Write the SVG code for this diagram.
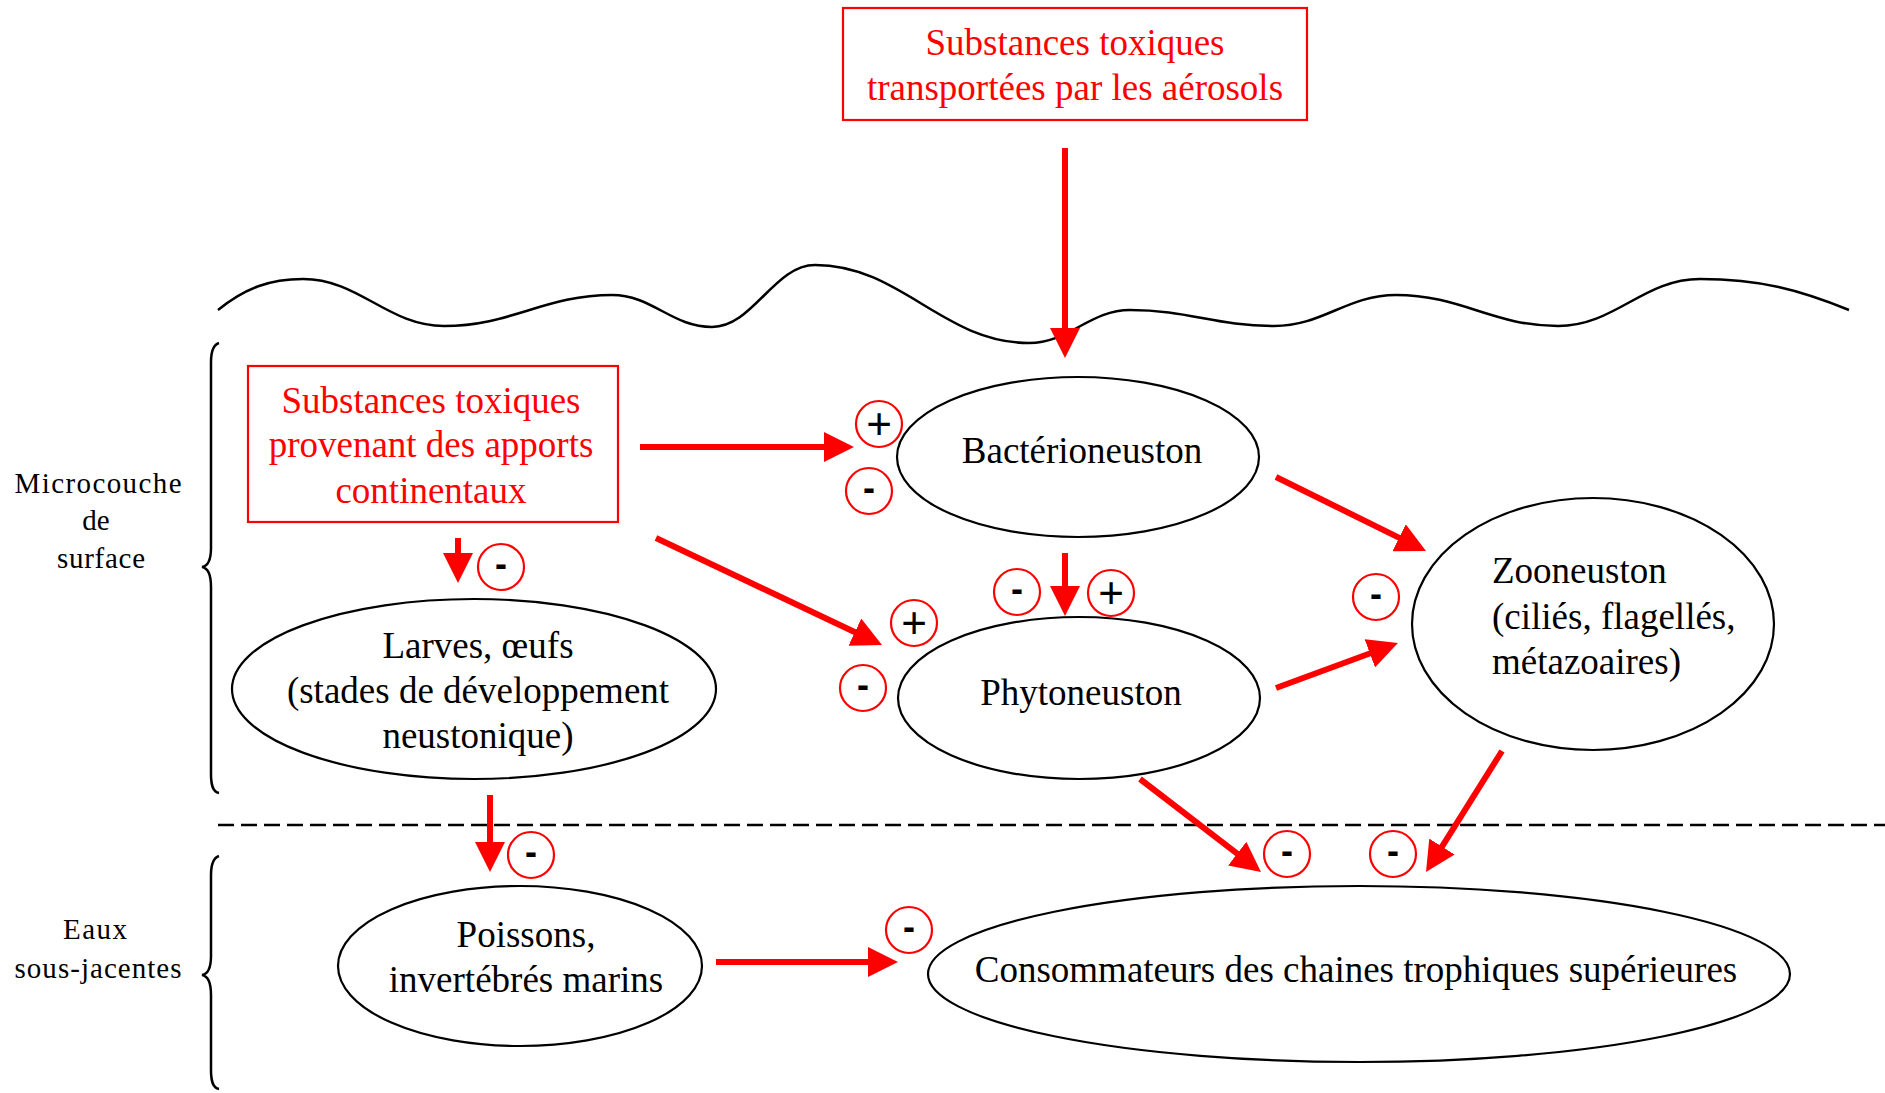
<svg xmlns="http://www.w3.org/2000/svg" width="1885" height="1093" viewBox="0 0 1885 1093">
<style>
.t{font-family:"Liberation Serif","Times New Roman",serif;font-size:37px;fill:#000}
.r{fill:#ff0000}
.lab{font-family:"Liberation Serif","Times New Roman",serif;font-size:29px;fill:#000;text-anchor:middle}
.mid{text-anchor:middle}
.box{fill:#fff;stroke:#ff0000;stroke-width:2.2}
.el{fill:#fff;stroke:#000;stroke-width:2.2}
.arr{stroke:#ff0000;stroke-width:6;fill:none;marker-end:url(#ah)}
.sig{fill:#fff;stroke:#ff0000;stroke-width:2.2}
.minus{font-family:"Liberation Sans",Arial,sans-serif;font-weight:bold;font-size:36px;fill:#000;text-anchor:middle}
.plus{font-family:"Liberation Sans",Arial,sans-serif;font-size:44px;fill:#000;text-anchor:middle}
.line{fill:none;stroke:#000;stroke-width:2.5}
</style>
<defs>
<marker id="ah" markerUnits="userSpaceOnUse" markerWidth="30" markerHeight="30" refX="2" refY="15" orient="auto">
<path d="M0,0 L30,15 L0,30 Z" fill="#ff0000"/>
</marker>
</defs>
<rect width="1885" height="1093" fill="#fff"/>

<g id="surface">
<path class="line" d="M218,310 C245,288 270,279 303,279 C359,279 388,326 444,326 C511,326 545,295 612,295 C652,295 672,327 712,327 C753,327 774,265 815,265 C901,265 943,343 1029,343 C1069,343 1090,310 1130,310 C1188,310 1216,326 1274,326 C1323,326 1347,295 1396,295 C1461,295 1493,326 1558,326 C1615,326 1643,279 1700,279 C1760,279 1800,290 1849,310"/>
<line x1="218" y1="825" x2="1885" y2="825" stroke="#000" stroke-width="2.5" stroke-dasharray="16 7"/>
</g>

<g id="braces">
<path class="line" d="M219,343 C213,345 211,352 211,362 L211,548 C211,560 208,566 202,567 C208,568 211,575 211,587 L211,774 C211,786 213,792 219,793"/>
<path class="line" d="M219,856 C213,858 211,865 211,875 L211,956 C211,968 208,974 202,975 C208,976 211,983 211,995 L211,1070 C211,1082 213,1088 219,1089"/>
</g>

<g id="label-microcouche">
<text class="lab" x="98" y="493" textLength="167" lengthAdjust="spacing">Microcouche</text>
<text class="lab" x="96" y="530">de</text>
<text class="lab" x="101" y="568" textLength="88" lengthAdjust="spacing">surface</text>
</g>
<g id="label-eaux">
<text class="lab" x="95" y="939" textLength="64" lengthAdjust="spacing">Eaux</text>
<text class="lab" x="98" y="978" textLength="167" lengthAdjust="spacing">sous-jacentes</text>
</g>

<g id="connectors">
<line class="arr" x1="1065" y1="148" x2="1065" y2="330"/>
<line class="arr" x1="640" y1="447" x2="826" y2="447"/>
<line class="arr" x1="458" y1="538" x2="458" y2="555"/>
<line class="arr" x1="656" y1="538" x2="856.7" y2="633"/>
<line class="arr" x1="1065" y1="553" x2="1065" y2="588"/>
<line class="arr" x1="1276" y1="477" x2="1400.9" y2="538.6"/>
<line class="arr" x1="1276" y1="688" x2="1371.7" y2="652.7"/>
<line class="arr" x1="1140" y1="779" x2="1238.8" y2="854.9"/>
<line class="arr" x1="1502" y1="751" x2="1440.9" y2="848.3"/>
<line class="arr" x1="490" y1="795" x2="490" y2="844"/>
<line class="arr" x1="716" y1="962" x2="870" y2="962"/>
</g>

<g id="aerosols">
<rect class="box" x="843" y="8" width="464" height="112"/>
<text class="t r mid" x="1075" y="55">Substances toxiques</text>
<text class="t r mid" x="1075" y="100">transportées par les aérosols</text>
</g>

<g id="continentaux">
<rect class="box" x="248" y="366" width="370" height="156"/>
<text class="t r mid" x="431" y="413">Substances toxiques</text>
<text class="t r mid" x="431" y="457">provenant des apports</text>
<text class="t r mid" x="431" y="503">continentaux</text>
</g>

<g id="bacterioneuston">
<ellipse class="el" cx="1078" cy="457" rx="181" ry="80"/>
<text class="t mid" x="1082" y="463">Bactérioneuston</text>
</g>

<g id="phytoneuston">
<ellipse class="el" cx="1079" cy="698" rx="181" ry="81"/>
<text class="t mid" x="1081" y="705">Phytoneuston</text>
</g>

<g id="zooneuston">
<ellipse class="el" cx="1593" cy="624" rx="181" ry="126"/>
<text class="t" x="1492" y="583">Zooneuston</text>
<text class="t" x="1492" y="629">(ciliés, flagellés,</text>
<text class="t" x="1492" y="674">métazoaires)</text>
</g>

<g id="larves">
<ellipse class="el" cx="474" cy="689" rx="242" ry="90"/>
<text class="t mid" x="478" y="658">Larves, œufs</text>
<text class="t mid" x="478" y="703">(stades de développement</text>
<text class="t mid" x="478" y="748">neustonique)</text>
</g>

<g id="poissons">
<ellipse class="el" cx="520" cy="966" rx="182" ry="80"/>
<text class="t mid" x="526" y="947">Poissons,</text>
<text class="t mid" x="526" y="992">invertébrés marins</text>
</g>

<g id="consommateurs">
<ellipse class="el" cx="1359" cy="974" rx="431" ry="88"/>
<text class="t mid" x="1356" y="982">Consommateurs des chaines trophiques supérieures</text>
</g>

<g id="signs">
<ellipse class="sig" cx="879" cy="424" rx="23" ry="23"/><text class="plus" x="879" y="439">+</text>
<ellipse class="sig" cx="869" cy="491" rx="23" ry="23"/><text class="minus" x="869" y="500">-</text>
<ellipse class="sig" cx="501" cy="567" rx="23" ry="23"/><text class="minus" x="501" y="576">-</text>
<ellipse class="sig" cx="1017" cy="592" rx="23" ry="23"/><text class="minus" x="1017" y="601">-</text>
<ellipse class="sig" cx="1111" cy="593" rx="23" ry="23"/><text class="plus" x="1111" y="608">+</text>
<ellipse class="sig" cx="914" cy="623" rx="23" ry="23"/><text class="plus" x="914" y="638">+</text>
<ellipse class="sig" cx="863" cy="688" rx="23" ry="23"/><text class="minus" x="863" y="697">-</text>
<ellipse class="sig" cx="1376" cy="597" rx="23" ry="23"/><text class="minus" x="1376" y="606">-</text>
<ellipse class="sig" cx="531" cy="855" rx="23" ry="23"/><text class="minus" x="531" y="864">-</text>
<ellipse class="sig" cx="1287" cy="854" rx="23" ry="23"/><text class="minus" x="1287" y="863">-</text>
<ellipse class="sig" cx="1393" cy="854" rx="23" ry="23"/><text class="minus" x="1393" y="863">-</text>
<ellipse class="sig" cx="909" cy="930" rx="23" ry="23"/><text class="minus" x="909" y="939">-</text>
</g>
</svg>
